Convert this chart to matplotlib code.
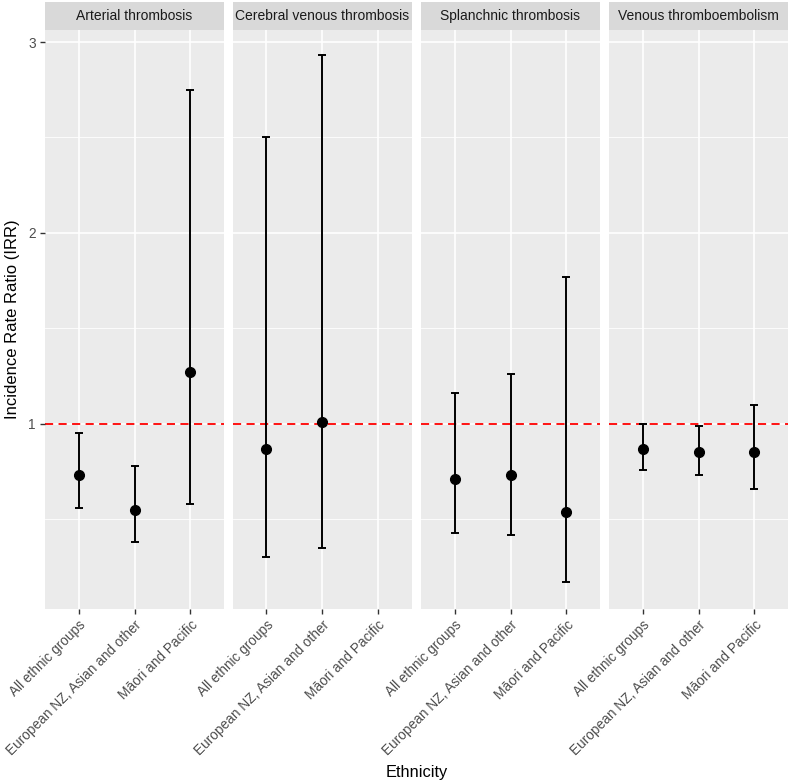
import numpy as np
import matplotlib
matplotlib.use("Agg")
import matplotlib.pyplot as plt

plt.rcParams['font.family'] = ['Liberation Sans', 'DejaVu Sans']

# data
outcomes = ["Arterial thrombosis", "Cerebral venous thrombosis",
            "Splanchnic thrombosis", "Venous thromboembolism"]
groups = ["All ethnic groups", "European NZ, Asian and other", "Māori and Pacific"]

irr = [
    [0.73, 0.55, 1.27],
    [0.87, 1.01, np.nan],
    [0.71, 0.73, 0.54],
    [0.87, 0.85, 0.85],
]
lower = [
    [0.56, 0.38, 0.58],
    [0.30, 0.35, np.nan],
    [0.43, 0.42, 0.17],
    [0.76, 0.73, 0.66],
]
upper = [
    [0.95, 0.78, 2.75],
    [2.50, 2.93, np.nan],
    [1.16, 1.26, 1.77],
    [1.00, 0.99, 1.10],
]

W, H = 790, 784
fig = plt.figure(figsize=(W / 100, H / 100), dpi=100)
fig.patch.set_facecolor("white")

panel_left = [45, 232.5, 421, 609]
panel_w = 179
panel_top, panel_bot = 30, 609
strip_top = 2

ylo, yhi = 0.03, 3.063
x = np.arange(1, len(groups) + 1)

for i, name in enumerate(outcomes):
    l = panel_left[i]
    ax = fig.add_axes([l / W, 1 - panel_bot / H, panel_w / W, (panel_bot - panel_top) / H])
    ax.set_facecolor("#EBEBEB")
    for s in ax.spines.values():
        s.set_visible(False)
    ax.set_xlim(0.4, 3.6)
    ax.set_ylim(ylo, yhi)

    # grid
    for yv in [0.5, 1.5, 2.5]:
        ax.axhline(yv, color="white", lw=0.6, zorder=0)
    for yv in [1, 2, 3]:
        ax.axhline(yv, color="white", lw=1.2, zorder=0)
    for xv in x:
        ax.axvline(xv, color="white", lw=1.2, zorder=0)

    ax.axhline(1, color="red", lw=1.3, linestyle=(0, (4.5, 3)), zorder=1)

    m = irr[i]
    lo = lower[i]
    hi = upper[i]
    for j in range(len(groups)):
        if np.isnan(m[j]):
            continue
        ax.errorbar(x[j], m[j], yerr=[[m[j] - lo[j]], [hi[j] - m[j]]],
                    fmt="o", color="black", ms=7, elinewidth=1.4,
                    capsize=3.2, capthick=1.4, zorder=3)

    ax.set_xticks(x)
    ax.set_xticklabels(groups, rotation=45, ha="right", va="top",
                       rotation_mode="anchor", fontsize=9.8, color="#4D4D4D")
    ax.tick_params(axis="x", length=3.5, width=1, color="#333333", pad=3)
    if i == 0:
        ax.set_yticks([1, 2, 3])
        ax.set_yticklabels(["1", "2", "3"], fontsize=9.8, color="#4D4D4D")
        ax.tick_params(axis="y", length=3.5, width=1, color="#333333", pad=3)
        ax.set_ylabel("Incidence Rate Ratio (IRR)", fontsize=12, labelpad=6)
    else:
        ax.set_yticks([])

    # facet strip
    sax = fig.add_axes([l / W, 1 - panel_top / H, panel_w / W, (panel_top - strip_top) / H])
    sax.set_facecolor("#D9D9D9")
    sax.set_xticks([])
    sax.set_yticks([])
    for s in sax.spines.values():
        s.set_visible(False)
    sax.text(0.5, 0.5, name, ha="center", va="center", fontsize=10,
             color="#1A1A1A", transform=sax.transAxes)

fig.text((45 + 788) / 2 / W, 1 - 772 / H, "Ethnicity", ha="center", va="center", fontsize=11.8)

fig.savefig("out.png", dpi=100)
